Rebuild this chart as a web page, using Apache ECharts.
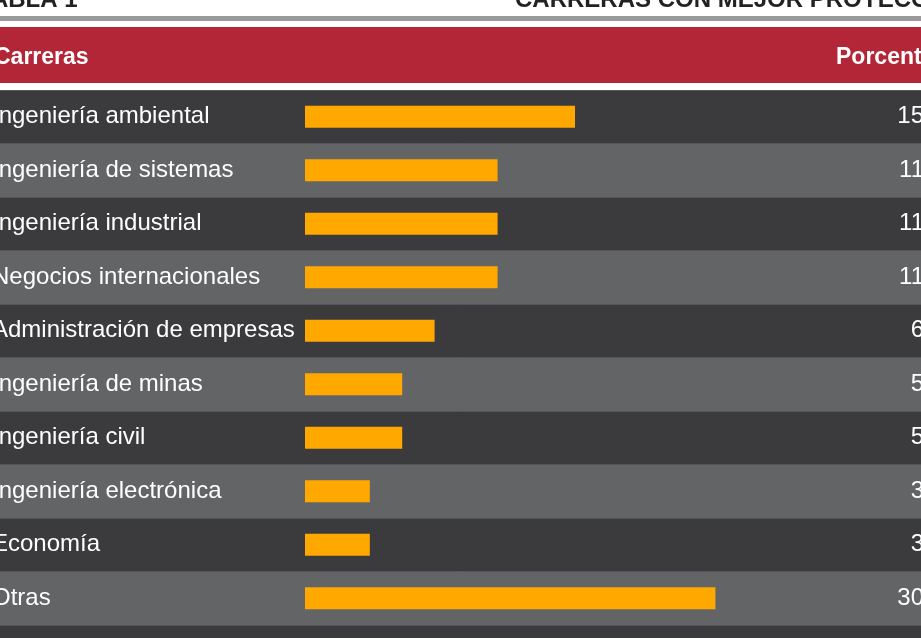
<!DOCTYPE html>
<html><head><meta charset="utf-8">
<script src="https://cdn.jsdelivr.net/npm/echarts@6/dist/echarts.min.js"></script>
<style>html,body{margin:0;padding:0;background:#fff}#c{width:921px;height:638px}</style>
</head><body><div id="c"></div>
<script>
const categories = ["Ingeniería ambiental","Ingeniería de sistemas","Ingeniería industrial","Negocios internacionales","Administración de empresas","Ingeniería de minas","Ingeniería civil","Ingeniería electrónica","Economía","Otras","Total"];
const barValues = [15, 10.7, 10.7, 10.7, 7.2, 5.4, 5.4, 3.6, 3.6, 22.8, 30.8];
const valueLabels = ["15","11","11","11","6","5","5","3","3","30","100"];
const FONT = "'Liberation Sans Narrow','Liberation Sans',Arial,sans-serif";
const chart = echarts.init(document.getElementById('c'));
chart.setOption({
  animation:false,
  backgroundColor:'#fff',
  graphic:[
    {type:'text',left:-22,top:-12,style:{text:'TABLA 1',font:'bold 24px '+FONT,fill:'#222'}},
    {type:'text',left:515,top:-12,style:{text:'CARRERAS CON MEJOR PROYECCIÓN',font:'bold 24px '+FONT,fill:'#222'}},
    {type:'rect',shape:{x:0,y:16,width:921,height:5},style:{fill:'#9a9a9c'}},
    {type:'rect',shape:{x:0,y:27,width:921,height:56},style:{fill:'#b22638'}},
    {type:'text',left:-6,top:46,style:{text:'Carreras',font:'bold 23px '+FONT,fill:'#fff'}},
    {type:'text',left:836,top:46,style:{text:'Porcentaje',font:'bold 23px '+FONT,fill:'#fff'}}
  ],
  grid:{left:0,right:0,top:90,height:11*53.5,containLabel:false,outerBoundsMode:'none'},
  xAxis:{type:'value',min:-305/18,max:616/18,show:false,splitLine:{show:false}},
  yAxis:[{type:'category',inverse:true,data:categories,
    axisLine:{show:false},axisTick:{show:false},
    splitArea:{show:true,areaStyle:{color:['#3b3a3d','#636466']}},
    splitLine:{show:true,lineStyle:{color:'#555658',width:1}},
    axisLabel:{inside:true,align:'left',margin:-8,color:'#fff',fontSize:24,fontFamily:FONT}},
   {type:'category',inverse:true,position:'right',data:valueLabels,
    axisLine:{show:false},axisTick:{show:false},
    axisLabel:{inside:true,align:'right',margin:-3,color:'#fff',fontSize:24,fontFamily:FONT}}],
  series:[{type:'bar',data:barValues,barWidth:22,itemStyle:{color:'#ffa800'},silent:true}]
});
</script></body></html>
